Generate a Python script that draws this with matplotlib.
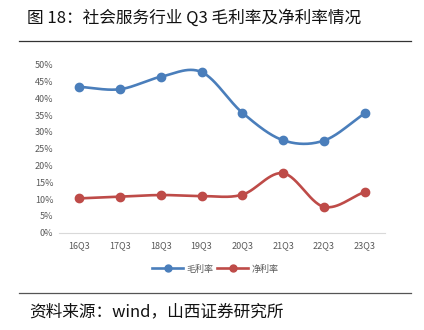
import matplotlib.pyplot as plt
import numpy as np

plt.rcParams['font.family'] = ['Noto Sans CJK SC', 'DejaVu Sans']

quarters = ["16Q3", "17Q3", "18Q3", "19Q3", "20Q3", "21Q3", "22Q3", "23Q3"]
gross_margin = [43.4, 42.7, 46.4, 47.8, 35.7, 27.5, 27.4, 35.5]  # 毛利率 %
net_margin = [10.2, 10.7, 11.2, 10.9, 11.3, 17.7, 7.7, 12.1]  # 净利率 %

BLUE = "#4a7ebb"
RED = "#be4b48"
GREY = "#595959"


def smooth(xs, ys, n=30):
    # Catmull-Rom curve through the points, like Excel's smoothed lines
    xs = np.asarray(xs, float)
    ys = np.asarray(ys, float)
    px = np.concatenate([[2 * xs[0] - xs[1]], xs, [2 * xs[-1] - xs[-2]]])
    py = np.concatenate([[2 * ys[0] - ys[1]], ys, [2 * ys[-1] - ys[-2]]])
    out_x, out_y = [], []
    t = np.linspace(0, 1, n, endpoint=False)
    for i in range(1, len(px) - 2):
        for p, out in ((px, out_x), (py, out_y)):
            p0, p1, p2, p3 = p[i - 1], p[i], p[i + 1], p[i + 2]
            out.extend(0.5 * ((2 * p1) + (-p0 + p2) * t
                              + (2 * p0 - 5 * p1 + 4 * p2 - p3) * t ** 2
                              + (-p0 + 3 * p1 - 3 * p2 + p3) * t ** 3))
    out_x.append(xs[-1])
    out_y.append(ys[-1])
    return np.array(out_x), np.array(out_y)


fig = plt.figure(figsize=(4.24, 3.30), dpi=100)
ax = fig.add_axes([0.139, 0.295, 0.769, 0.509])

x = np.arange(len(quarters))
for vals, color, name in ((gross_margin, BLUE, "毛利率"), (net_margin, RED, "净利率")):
    sx, sy = smooth(x, vals)
    ax.plot(sx, sy, color=color, lw=1.9, solid_capstyle="round")
    ax.plot(x, vals, "o", color=color, ms=6, mec=color)
    ax.plot([], [], color=color, lw=1.9, marker="o", ms=5, label=name)

ax.set_xlim(-0.5, len(quarters) - 0.5)
ax.set_ylim(0, 50)
ax.set_yticks(np.arange(0, 51, 5))
ax.set_yticklabels([f"{v}%" for v in range(0, 51, 5)])
ax.set_xticks(x)
ax.set_xticklabels(quarters)
ax.tick_params(length=0, labelsize=6.5, colors=GREY, pad=4)
ax.tick_params(axis="x", pad=6)
for s in ("top", "right", "left"):
    ax.spines[s].set_visible(False)
ax.spines["bottom"].set_color("#d9d9d9")
ax.spines["bottom"].set_linewidth(0.8)

fig.legend(loc="center", bbox_to_anchor=(0.507, 0.185), ncol=2, frameon=False,
           fontsize=6.5, labelcolor=GREY, handlelength=3.5, handletextpad=0.3,
           columnspacing=0.4)

fig.text(0.064, 0.945, "图 18：社会服务行业 Q3 毛利率及净利率情况", fontsize=12,
         va="center", ha="left", color="#111111")
fig.add_artist(plt.Line2D([0.045, 0.97], [0.876, 0.876], color="#333333", lw=0.9))
fig.add_artist(plt.Line2D([0.045, 0.97], [0.112, 0.112], color="#555555", lw=0.9))
fig.text(0.07, 0.055, "资料来源：wind，山西证券研究所", fontsize=12,
         va="center", ha="left", color="#111111")

fig.savefig("out.png", dpi=100)
